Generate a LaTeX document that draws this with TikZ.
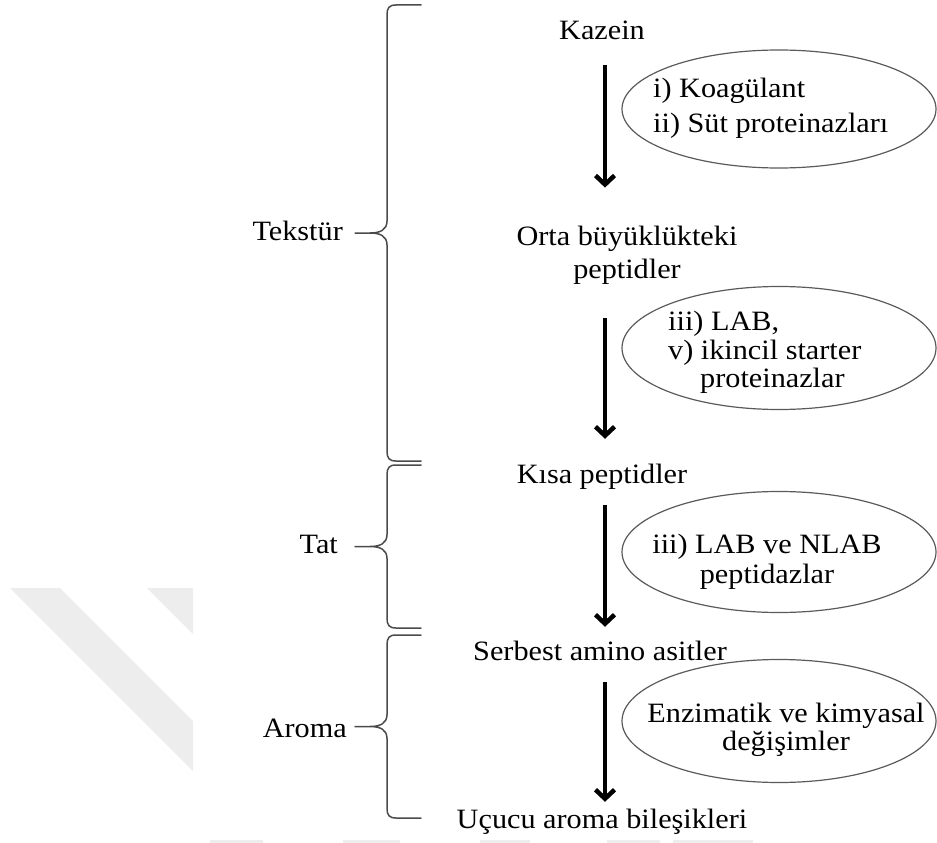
\documentclass[tikz,border=0pt]{standalone}
\usepackage{fontspec}
\setmainfont{Liberation Serif}[FakeStretch=1.08]
\usetikzlibrary{arrows.meta,shapes.geometric}
\definecolor{ellgray}{HTML}{5A5A5A}
\definecolor{bracegray}{HTML}{4A4A4A}
\definecolor{wmgray}{HTML}{EDEDED}
\newcommand{\mybrace}[2]{%
  \pgfmathsetmacro{\bm}{(#1+#2)/2}%
  \draw[bracestyle] (421,#1) -- (396,#1) .. controls (389,#1) and (387,{#1+3}) .. (387,{#1+10})
    -- (387,{\bm-12}) .. controls (387,{\bm-3}) and (380,\bm) .. (370,\bm) -- (355,\bm)
    (370,\bm) .. controls (380,\bm) and (387,{\bm+3}) .. (387,{\bm+12})
    -- (387,{#2-10}) .. controls (387,{#2-3}) and (389,#2) .. (396,#2) -- (421,#2);}
\begin{document}
\begin{tikzpicture}[x=1pt,y=-1pt,
  txt/.style={font=\fontsize{28}{33}\selectfont, inner sep=0pt, text=black},
  main/.style={txt, text height=19pt, text depth=6pt},
  arr/.style={line width=3.4pt, -{Straight Barb[length=9pt,width=19pt,line width=4.5pt]}},
  ell/.style={ellipse, draw=ellgray, line width=1.2pt, minimum width=314pt, minimum height=#1, inner sep=0pt},
  ell/.default=120pt,
  bracestyle/.style={draw=bracegray, line width=1.5pt, line join=round, line cap=round},
  wm/.style={fill=wmgray, draw=none}]
\useasboundingbox (0,0) rectangle (937,843);
% faint watermark
\fill[wm] (10,588) -- (60,588) -- (193,721) -- (193,771) -- cycle;
\fill[wm] (147,588) -- (193,588) -- (193,634) -- cycle;
\fill[wm] (210,840) rectangle (263,843);
\fill[wm] (343,840) rectangle (400,843);
\fill[wm] (480,840) rectangle (530,843);
\fill[wm] (607,840) rectangle (660,843);
\fill[wm] (673,840) rectangle (753,843);
% main chain
\node[main, anchor=base] (kazein) at (602,40) {Kazein};
\node[txt, align=center] (orta) at (627,255) {Orta büyüklükteki\\peptidler};
\node[main, anchor=base] (kisa) at (602,483) {Kısa peptidler};
\node[main, anchor=base] (serbest) at (600,660) {Serbest amino asitler};
\node[main, anchor=base] (ucucu) at (602,828) {Uçucu aroma bileşikleri};
\coordinate (ax) at (605,0);
\draw[arr, shorten <=19pt, shorten >=38pt] (kazein.south -| ax) -- (orta.north -| ax);
\draw[arr, shorten <=34pt, shorten >=25pt] (orta.south -| ax) -- (kisa.north -| ax);
\draw[arr, shorten <=16pt, shorten >=14pt] (kisa.south -| ax) -- (serbest.north -| ax);
\draw[arr, shorten <=16pt, shorten >=7pt] (serbest.south -| ax) -- (ucucu.north -| ax);
% ellipses
\node[ell=118pt] (e1) at (779,109) {};
\node[ell=123pt] (e2) at (779,348) {};
\node[ell=121pt] (e3) at (779,552) {};
\node[ell=123pt] (e4) at (779,721) {};
\node[txt, align=left, anchor=north west, font=\fontsize{28}{35}\selectfont] (t1) at (653,78) {i) Koagülant\\ii) Süt proteinazları};
\node[txt, align=left, anchor=north west, font=\fontsize{28}{28.5}\selectfont] (t2) at (668,311) {iii) LAB,\\v) ikincil starter\\\hspace*{32pt}proteinazlar};
\node[txt, align=center, font=\fontsize{28}{30}\selectfont] (t3) at (767,562) {iii) LAB ve NLAB\\peptidazlar};
\node[txt, align=center, font=\fontsize{28}{28}\selectfont] (t4) at (786,730) {Enzimatik ve kimyasal\\değişimler};
% braces and labels
\mybrace{5}{461}
\mybrace{465}{628}
\mybrace{635}{818}
\node[main, anchor=base east] (tek) at (343,240) {Tekstür};
\node[main, anchor=base east] (tat) at (338,553) {Tat};
\node[main, anchor=base east] (aro) at (347,737) {Aroma};
\end{tikzpicture}
\end{document}
